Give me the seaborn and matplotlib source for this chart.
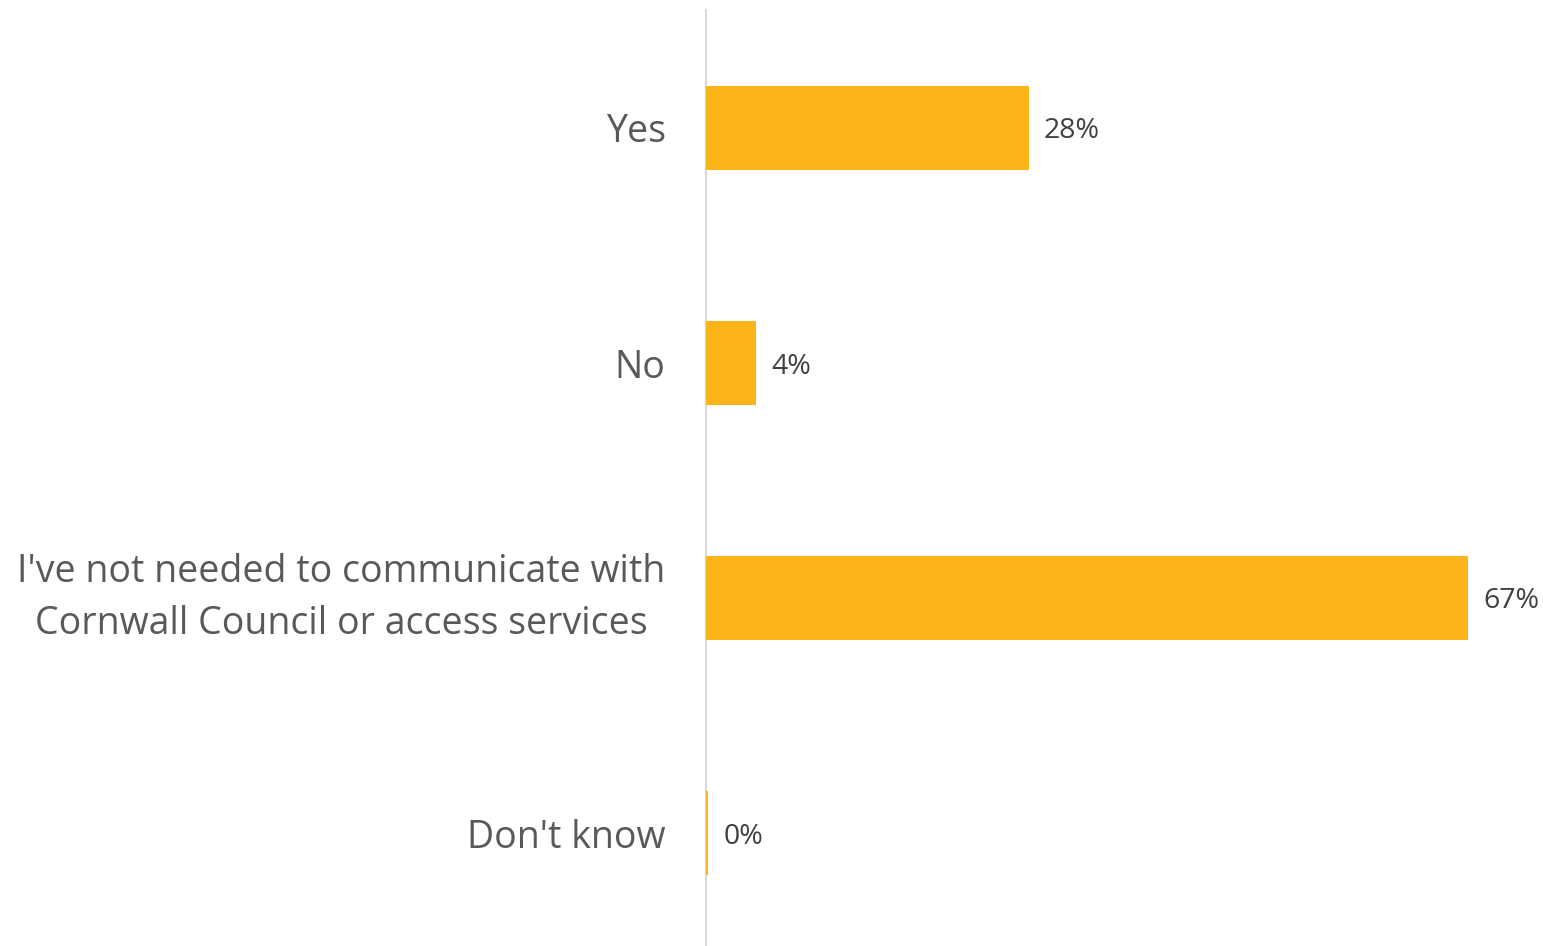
import matplotlib
matplotlib.use("Agg")
import matplotlib.pyplot as plt
import seaborn as sns
import pandas as pd

categories = ["Yes", "No", "I've not needed to communicate with\nCornwall Council or access services", "Don't know"]
values = [28.4, 4.4, 67.0, 0.2]
value_labels = ["28%", "4%", "67%", "0%"]

sns.set_theme(style="white")
plt.rcParams['font.family'] = ['Open Sans', 'DejaVu Sans']

W, H = 1543, 946
fig = plt.figure(figsize=(W / 100, H / 100), dpi=100)
ax_left = 706 / W
ax_top = 10.5
ax_bottom = 950.5
ax = fig.add_axes([ax_left, (H - ax_bottom) / H, (W - 706) / W, (ax_bottom - ax_top) / H])

df = pd.DataFrame({"cat": categories, "val": values})
sns.barplot(data=df, x="val", y="cat", ax=ax, color="#FDB31A", width=0.36,
            saturation=1, orient="h", linewidth=0, edgecolor="none")

px_per_pct = 762 / 67.0
ax.set_xlim(0, (W - 706) / px_per_pct)
ax.set_ylim(3.5, -0.5)

for i, (v, lab) in enumerate(zip(values, value_labels)):
    ax.text(v + 15 / px_per_pct, i, lab, va="center_baseline", ha="left", fontsize=20.5, color="#404040")

ax.set_xlabel("")
ax.set_ylabel("")
ax.set_xticks([])
ax.set_yticks(range(len(categories)))
ax.set_yticklabels(categories, fontsize=27, color="#595959", ha="right", linespacing=1.45)
for lbl in ax.get_yticklabels():
    lbl.set_multialignment("center")
    if "\n" in lbl.get_text():
        lbl.set_va("center")
ax.tick_params(axis="y", length=0, pad=29)

for s in ["top", "right", "bottom"]:
    ax.spines[s].set_visible(False)
ax.spines["left"].set_color("#D9D9D9")
ax.spines["left"].set_linewidth(1.5)
ax.spines["left"].set_zorder(0.5)

fig.savefig("out.png", dpi=100)
